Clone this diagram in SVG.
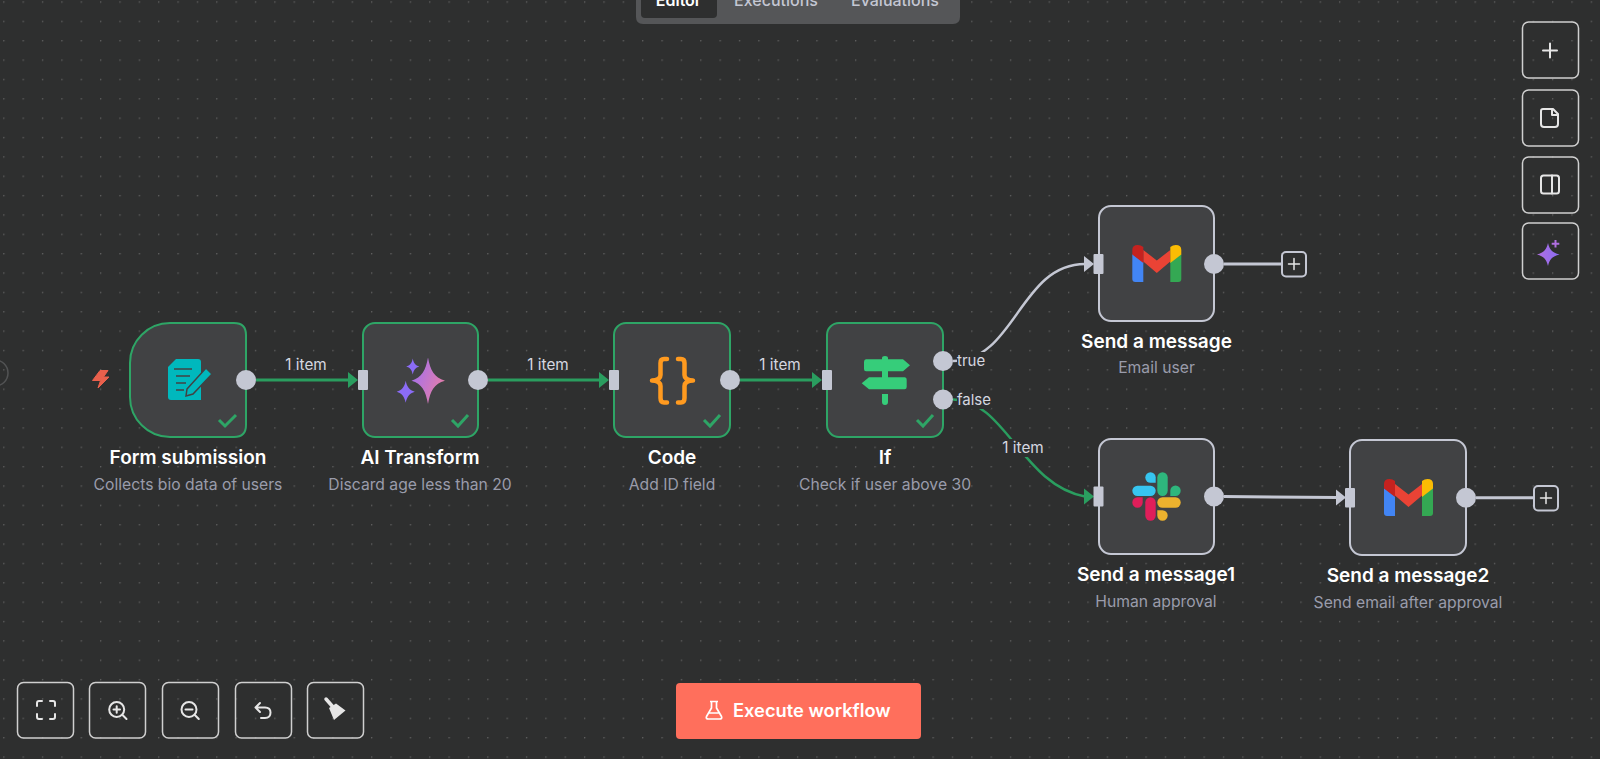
<svg xmlns="http://www.w3.org/2000/svg" width="1600" height="759" viewBox="0 0 1600 759">
<style>
text{font-family:Inter,"Noto Sans","Liberation Sans",sans-serif}
.title{font-size:19px;font-weight:600;fill:#fff;text-anchor:middle}
.sub{font-size:15.7px;fill:#9a9cab;text-anchor:middle}
.lbl{font-size:15.3px;fill:#d5d7e0;text-anchor:middle}
.plbl{font-size:15px;fill:#d5d7e0}
.body{fill:#414244;stroke-width:2}
.ok{stroke:#2ea566}.idle{stroke:#c4c7d3}
.check{fill:none;stroke:#2ea566;stroke-width:3}
.port{fill:#c4c7d3}
.g{fill:none;stroke:#2a9d5f;stroke-width:3}
.w{fill:none;stroke:#c4c7d3;stroke-width:3}
.ga{fill:#2a9d5f}.wa{fill:#c4c7d3}
.btn{fill:none;stroke:#d0d0d0;stroke-width:1.5}
.ic{fill:none;stroke:#e6e6e6;stroke-width:2;stroke-linecap:round;stroke-linejoin:round}
.bgm{fill:#2e2f2f}
</style>
<defs>
<pattern id="dots" x="3.18" y="1.34" width="19.36" height="19.36" patternUnits="userSpaceOnUse"><circle cx="0.7" cy="0.7" r="0.7" fill="#6a6a6a"/></pattern>
<linearGradient id="spark" x1="0" y1="0.2" x2="1" y2="0.7"><stop offset="0" stop-color="#a06ff0"/><stop offset="1" stop-color="#e97fa6"/></linearGradient>
<linearGradient id="spark2" x1="0" y1="0.5" x2="1" y2="0.5"><stop offset="0" stop-color="#b06fe0"/><stop offset="1" stop-color="#8a6cf4"/></linearGradient>
<symbol id="gmail" viewBox="0 0 49 37" width="49" height="37" overflow="visible">
<path d="M0 9V34Q0 37 3 37H11V17Z" fill="#4285f4"/>
<path d="M38 17V37H46Q49 37 49 34V9Z" fill="#34a853"/>
<path d="M11 5L24.500 15.500L38 5V16.500L24.500 28L11 16.500Z" fill="#ea4335"/>
<path d="M0 9.500V5Q0 0 5.500 0Q8.500 0 11 2V18Z" fill="#c5221f"/>
<path d="M49 9.500V5Q49 0 43.500 0Q40.500 0 38 2V18Z" fill="#fbbc04"/>
</symbol>
</defs>
<rect width="1600" height="759" fill="#2e2f2f"/>
<rect width="1600" height="759" fill="url(#dots)"/>
<circle cx="-5" cy="373" r="13" fill="none" stroke="#525354" stroke-width="1.500"/>

<g id="connectors">
<path class="g" d="M256 380H349"/><path class="ga" d="M348 372L358 380L348 388Z"/>
<path class="g" d="M488 380H600"/><path class="ga" d="M599 372L609 380L599 388Z"/>
<path class="g" d="M740 380H813"/><path class="ga" d="M812 372L822 380L812 388Z"/>
<path class="w" d="M953 361C1015 361 1020 264 1085 264" style="stroke-width:2.500"/><path class="wa" d="M1084 256L1094 264L1084 272Z"/>
<path class="g" d="M953 399.500C1005 399.500 1022 485 1085 496.500" style="stroke-width:2.500"/><path class="ga" d="M1084 488.500L1094 496.500L1084 504.500Z"/>
<path class="w" d="M1224 264H1281"/>
<path class="w" d="M1224 496.500L1337 497.500"/><path class="wa" d="M1336 489.500L1346 497.500L1336 505.500Z"/>
<path class="w" d="M1476 497.700H1533"/>
<text class="lbl" x="306" y="370">1 item</text>
<text class="lbl" x="548" y="370">1 item</text>
<text class="lbl" x="780" y="370">1 item</text>
<rect class="bgm" x="957" y="352" width="29" height="18"/><text class="plbl" x="957" y="366">true</text>
<rect class="bgm" x="957" y="391" width="34" height="18"/><text class="plbl" x="957" y="405">false</text>
<rect class="bgm" x="1000" y="439" width="46" height="18"/><text class="lbl" x="1023" y="453">1 item</text>
</g>

<g id="trigger-bolt"><path d="M100 370.500H108L103.500 377H109L98 388L100.500 380.500H92.500Z" fill="#e9604c" stroke="#e9604c" stroke-width="1" stroke-linejoin="round"/></g>

<g id="node-form">
<path class="body ok" d="M170 323H234Q246 323 246 335V425Q246 437 234 437H170A40 40 0 0 1 130 397V363A40 40 0 0 1 170 323Z"/>
<path d="M176 359H198Q201 359 201 362V400H171Q168 400 168 397V367Z" fill="#00b8bd"/>
<path d="M174 369H192M176 376H190M176 383H186M176 390H184" stroke="#414244" stroke-width="1.500" fill="none"/>
<path d="M187 389L206 368L212 374L193 394L186 396Z" fill="#00b8bd" stroke="#414244" stroke-width="1.500"/>
<polyline class="check" points="219,420 225,426 236,415"/>
<circle class="port" cx="246" cy="380" r="10"/>
<text class="title" x="188" y="464">Form submission</text><text class="sub" x="188" y="490">Collects bio data of users</text>
</g>

<g id="node-ai">
<rect class="body ok" x="363" y="323" width="115" height="114" rx="12"/>
<path d="M428 357.500C430.500 371 434 377 445 380.700C434 384 430.500 390 428 404C425.500 390 422 384 411.500 380.700C422 377 425.500 371 428 357.500Z" fill="url(#spark)"/>
<path d="M412.700 358.500C413.500 363 415.500 365.500 419.300 366.500C415.500 367.500 413.500 370 412.700 374.500C412 370 410 367.500 406.200 366.500C410 365.500 412 363 412.700 358.500Z" fill="#8b6cf6"/>
<path d="M405.700 380.700C407 387 409.500 390 414.800 391.700C409.500 393.400 407 396.500 405.700 402.700C404.400 396.500 402 393.400 396.700 391.700C402 390 404.400 387 405.700 380.700Z" fill="#8b6cf6"/>
<polyline class="check" points="452,420 458,426 468,415"/>
<rect class="port" x="358" y="370" width="10" height="20" rx="1"/>
<circle class="port" cx="478" cy="380" r="10"/>
<text class="title" x="420" y="464">AI Transform</text><text class="sub" x="420" y="490">Discard age less than 20</text>
</g>

<g id="node-code">
<rect class="body ok" x="614" y="323" width="116" height="114" rx="12"/>
<path d="M667 359H664Q660.500 359 660.500 363V375Q660.500 380 652 380.500Q660.500 381 660.500 386V398Q660.500 402.500 664 402.500H667M678 359H681Q684.500 359 684.500 363V375Q684.500 380 693 380.500Q684.500 381 684.500 386V398Q684.500 402.500 681 402.500H678" fill="none" stroke="#ff9a1f" stroke-width="4.500" stroke-linecap="round" stroke-linejoin="round"/>
<polyline class="check" points="704,420 710,426 720,415"/>
<rect class="port" x="609" y="370" width="10" height="20" rx="1"/>
<circle class="port" cx="730" cy="380" r="10"/>
<text class="title" x="672" y="464">Code</text><text class="sub" x="672" y="490">Add ID field</text>
</g>

<g id="node-if">
<rect class="body ok" x="827" y="323" width="116" height="114" rx="12"/>
<path d="M882 358Q882 356 885 356Q888 356 888 358V360H882ZM882 394H888V402Q888 405 885 405Q882 405 882 402Z" fill="#36cd7a"/>
<path d="M866 359.300H903L910 365.300L903 371.300H866Q864 371.300 864 369V362Q864 359.300 866 359.300ZM882 371H888V378H882Z" fill="#36cd7a"/>
<path d="M869 377.300H904.500Q906.700 377.300 906.700 380V387Q906.700 389.300 904.500 389.300H869L861.700 383.300Z" fill="#36cd7a"/>
<polyline class="check" points="917,420 923,426 933,415"/>
<rect class="port" x="822" y="370" width="10" height="20" rx="1"/>
<circle class="port" cx="943" cy="361" r="10"/>
<circle class="port" cx="943" cy="399.500" r="10"/>
<text class="title" x="885" y="464">If</text><text class="sub" x="885" y="490">Check if user above 30</text>
</g>

<g id="node-gmail">
<rect class="body idle" x="1099" y="206" width="115" height="115" rx="12"/>
<use href="#gmail" x="1132.300" y="245"/>
<rect class="port" x="1093.500" y="254" width="10" height="20" rx="1"/>
<circle class="port" cx="1214" cy="264" r="10"/>
<rect x="1282" y="252" width="24" height="24.500" rx="4" fill="#2e2f2f" stroke="#c4c7d3" stroke-width="2"/>
<path class="ic" d="M1288.500 264H1299.500M1294 258.500V269.500" style="stroke-width:1.500"/>
<text class="title" x="1156.500" y="348">Send a message</text><text class="sub" x="1156.500" y="373">Email user</text>
</g>

<g id="node-slack">
<rect class="body idle" x="1099" y="439" width="115" height="115" rx="12"/>
<rect x="1132.300" y="485.700" width="23.400" height="10.300" rx="5.150" fill="#36c5f0"/>
<path d="M1155.700 482.700H1150.500A5.200 5.200 0 1 1 1155.700 477.500Z" fill="#36c5f0"/>
<rect x="1157.300" y="472.300" width="10.400" height="23.700" rx="5.200" fill="#2eb67d"/>
<path d="M1170.300 496V490.800A5.200 5.200 0 1 1 1175.500 496Z" fill="#2eb67d"/>
<rect x="1157.300" y="497.300" width="23.400" height="10.400" rx="5.200" fill="#ecb22e"/>
<path d="M1157.300 510.300H1162.500A5.200 5.200 0 1 1 1157.300 515.500Z" fill="#ecb22e"/>
<rect x="1145.300" y="497.300" width="10.400" height="23.400" rx="5.200" fill="#e01e5a"/>
<path d="M1142.700 497.300V502.500A5.200 5.200 0 1 1 1137.500 497.300Z" fill="#e01e5a"/>
<rect class="port" x="1093.500" y="486.500" width="10" height="20" rx="1"/>
<circle class="port" cx="1214" cy="496.500" r="10"/>
<text class="title" x="1156" y="581">Send a message1</text><text class="sub" x="1156" y="607">Human approval</text>
</g>

<g id="node-gmail2">
<rect class="body idle" x="1350" y="440" width="116" height="115" rx="12"/>
<use href="#gmail" x="1384" y="479"/>
<rect class="port" x="1345" y="488" width="10" height="19.500" rx="1"/>
<circle class="port" cx="1466" cy="497.700" r="10"/>
<rect x="1534" y="486" width="24" height="24.500" rx="4" fill="#2e2f2f" stroke="#c4c7d3" stroke-width="2"/>
<path class="ic" d="M1540.500 498H1551.500M1546 492.500V503.500" style="stroke-width:1.500"/>
<text class="title" x="1408" y="582">Send a message2</text><text class="sub" x="1408" y="608">Send email after approval</text>
</g>

<g id="tabs">
<path d="M636 0H960V17Q960 24 953 24H643Q636 24 636 17Z" fill="#555658"/>
<path d="M641 0H717V14Q717 18 713 18H645Q641 18 641 14Z" fill="#2e2f2f"/>
<text x="678.500" y="6" font-size="16" font-weight="600" fill="#fff" text-anchor="middle">Editor</text>
<text x="776" y="6" font-size="16" font-weight="500" fill="#c4c7d3" text-anchor="middle">Executions</text>
<text x="895" y="6" font-size="16" font-weight="500" fill="#c4c7d3" text-anchor="middle">Evaluations</text>
</g>

<g id="tools-right">
<rect class="btn" x="1522.500" y="22" width="56" height="56" rx="6"/>
<path class="ic" d="M1543 50.500H1557M1550 43.500V57.500"/>
<rect class="btn" x="1522.500" y="90" width="56" height="56" rx="6"/>
<path class="ic" d="M1543 109H1553L1558 114V124Q1558 127 1555 127H1544Q1541 127 1541 124V111Q1541 109 1543 109ZM1552 109V115H1558"/>
<rect class="btn" x="1522.500" y="157" width="56" height="56" rx="6"/>
<rect class="ic" x="1541" y="175.500" width="18" height="18" rx="2.500"/><path class="ic" d="M1552 175.500V193.500"/>
<rect class="btn" x="1522.500" y="223" width="56" height="56" rx="6"/>
<path d="M1548 243C1549.500 249.500 1552 252.500 1559.500 254.500C1552 256.500 1549.500 259.500 1548 266C1546.500 259.500 1544 256.500 1537 254.500C1544 252.500 1546.500 249.500 1548 243Z" fill="url(#spark2)"/>
<path d="M1555.500 240V247.500M1551.700 243.700H1559.300" stroke="#b06fe0" stroke-width="2" fill="none"/>
</g>

<g id="tools-left">
<rect class="btn" x="17.500" y="682.500" width="56" height="55.500" rx="6"/>
<path class="ic" d="M37 706V703Q37 701 39 701H42M50 701H53Q55 701 55 703V706M55 714V717Q55 719 53 719H50M42 719H39Q37 719 37 717V714"/>
<rect class="btn" x="89.500" y="682.500" width="56" height="55.500" rx="6"/>
<circle class="ic" cx="116.700" cy="709.500" r="7.500"/><path class="ic" d="M122.500 715L126.500 719M113.500 709.500H120M116.700 706.300V712.700"/>
<rect class="btn" x="162.500" y="682.500" width="56" height="55.500" rx="6"/>
<circle class="ic" cx="189" cy="709.500" r="7.500"/><path class="ic" d="M194.800 715L198.800 719M185.500 709.500H192.500"/>
<rect class="btn" x="235.500" y="682.500" width="56" height="55.500" rx="6"/>
<path class="ic" d="M260 703L255.500 707.500L260 712M255.500 707.500H265Q270.500 707.500 270.500 712.500Q270.500 718 265 718H261"/>
<rect class="btn" x="307.500" y="682.500" width="56" height="55.500" rx="6"/>
<path d="M326 699L333 707" stroke="#e6e6e6" stroke-width="3.500" stroke-linecap="round"/>
<path d="M329 708L336 703.500L345.500 710.500L334 720Z" fill="#e6e6e6"/>
</g>

<g id="execute">
<rect x="676" y="683" width="245" height="56" rx="4" fill="#ff6f5c"/>
<path d="M710 701.500H718M711.500 701.500V708L706.500 716.500Q705.500 719 708.500 719H719.500Q722.500 719 721.500 716.500L716.500 708V701.500M709 713H719" fill="none" stroke="#fff" stroke-width="1.700" stroke-linejoin="round"/>
<text x="733" y="717" font-size="18.300" font-weight="600" fill="#fff">Execute workflow</text>
</g>
</svg>
